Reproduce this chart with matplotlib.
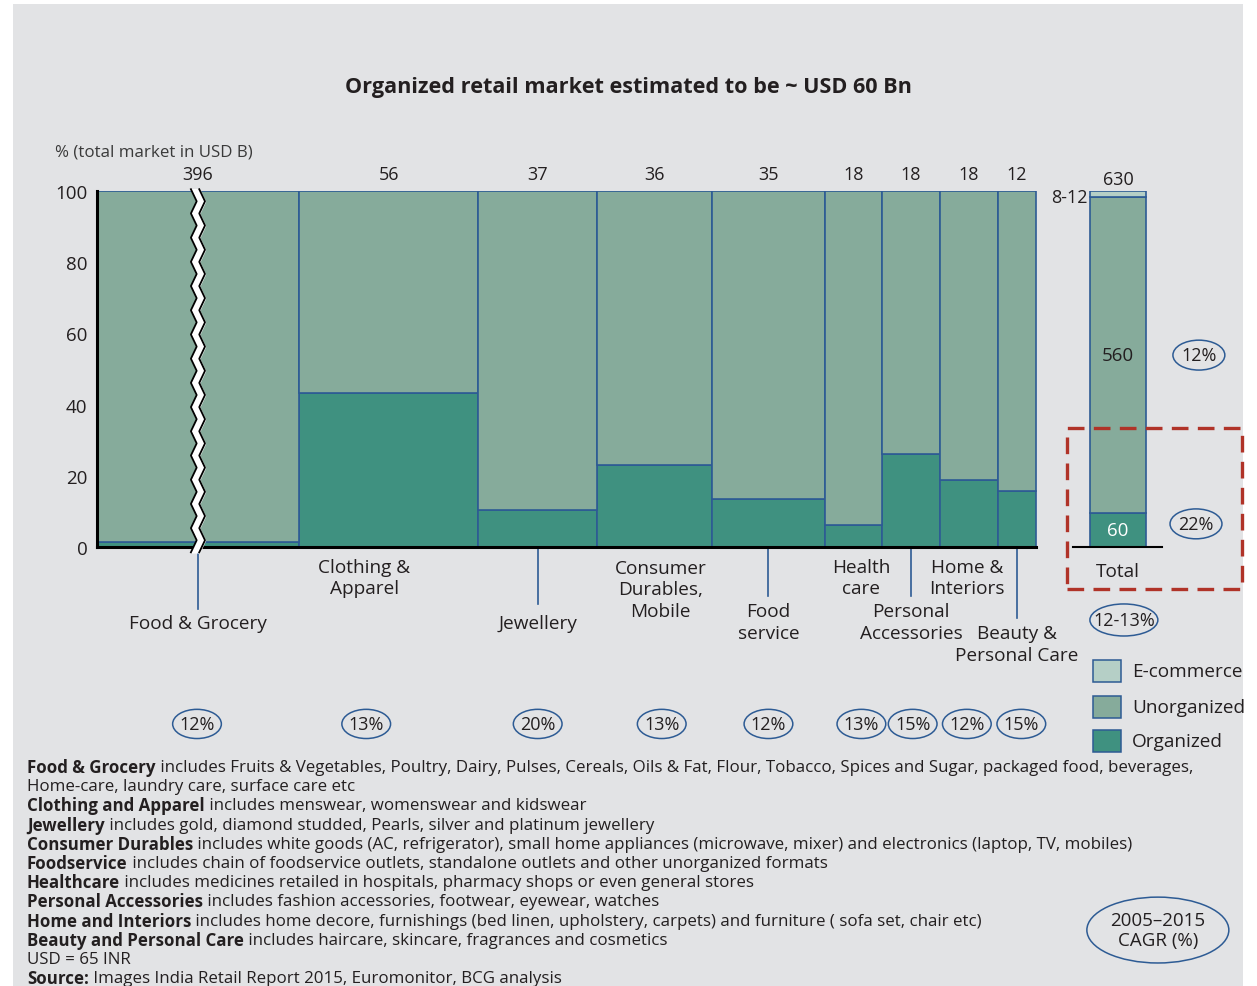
import numpy as np
import matplotlib.pyplot as plt
from matplotlib.patches import Rectangle, Ellipse

# data
categories = ["Food & Grocery", "Clothing &\nApparel", "Jewellery", "Consumer\nDurables,\nMobile",
              "Food\nservice", "Health\ncare", "Personal\nAccessories", "Home &\nInteriors",
              "Beauty &\nPersonal Care"]
market_size = [396, 56, 37, 36, 35, 18, 18, 18, 12]
organized_pct = [1.4, 43.3, 10.4, 23.0, 13.5, 6.2, 26.1, 18.9, 15.7]
cagr = ["12%", "13%", "20%", "13%", "12%", "13%", "15%", "12%", "15%"]

total_size = 630
total_organized = 60
total_unorganized = 560
total_ecommerce = 10
total_ecom_label = "8-12"
cagr_unorganized = "12%"
cagr_organized = "22%"
cagr_total = "12-13%"

# layout (food bar is drawn broken, so it gets a shorter width)
food_shown_width = 63
label_dx = [0, -7.6, 0, 1.9, 0, 2.5, 0, -0.6, 0]
label_y = [-21.3, -8.6, -21.3, -11.9, -21.1, -8.6, -21.1, -8.6, -27.2]
leader_to = [-17.4, None, -16, None, -13.8, None, -13.8, None, -20]
cagr_dx = [-0.3, -7.0, 0, 2.2, 0, 2.5, 0.5, -0.6, 1.4]

c_unorg = "#86ab9b"
c_org = "#3f9180"
c_ecom = "#b5cfc6"
c_edge = "#2d5b94"
c_text = "#231f20"
bg = "#e2e3e5"

plt.rcParams['font.family'] = ['Open Sans', 'Noto Sans', 'DejaVu Sans']

fig = plt.figure(figsize=(12.57, 9.87), dpi=100)
fig.patch.set_facecolor("white")
fig.patches.append(Rectangle((13 / 1257, 0), 1230 / 1257, 982 / 987, transform=fig.transFigure,
                             facecolor=bg, edgecolor="none", zorder=-10))

ax = fig.add_axes([97 / 1257, (987 - 548) / 987, 1148 / 1257, 356 / 987])
ax.set_facecolor("none")
ax.set_xlim(0, 1148 / 3.205)
ax.set_ylim(0, 100)

widths = [food_shown_width] + market_size[1:]
lefts = np.concatenate([[0], np.cumsum(widths)[:-1]])
centers = lefts + np.array(widths) / 2
unorg = [100 - o for o in organized_pct]

ax.bar(lefts, organized_pct, width=widths, align="edge", color=c_org, edgecolor=c_edge, lw=1.2)
ax.bar(lefts, unorg, bottom=organized_pct, width=widths, align="edge", color=c_unorg,
       edgecolor=c_edge, lw=1.2)
ax.plot([0, sum(widths)], [0, 0], color="black", lw=2.2, clip_on=False, zorder=5)

# break mark on food bar
yz = np.arange(-1.5, 102.5, 3.4)
xz = centers[0] + np.where(np.arange(len(yz)) % 2 == 0, -0.9, 0.9)
ax.fill_betweenx(yz, xz - 1.3, xz + 1.3, color="white", zorder=6, clip_on=False)
ax.plot(xz - 1.3, yz, color="black", lw=1.3, zorder=7, clip_on=False)
ax.plot(xz + 1.3, yz, color="black", lw=1.3, zorder=7, clip_on=False)

# size labels above bars
for i in range(len(categories)):
    ax.text(centers[i], 104.8, str(market_size[i]), ha="center", va="center", fontsize=13,
            color=c_text, clip_on=False)
    ax.text(centers[i] + label_dx[i], label_y[i], categories[i], ha="center", va="center",
            fontsize=13.7, color=c_text, linespacing=1.25, clip_on=False)
    if leader_to[i] is not None:
        ax.plot([centers[i], centers[i]], [0, leader_to[i]], color=c_edge, lw=1.2, clip_on=False)
    cx = centers[i] + cagr_dx[i]
    ax.add_patch(Ellipse((cx, -49.7), 15.2, 8.2, facecolor="none", edgecolor=c_edge, lw=1.1,
                         clip_on=False))
    ax.text(cx, -49.7, cagr[i], ha="center", va="center", fontsize=13, color=c_text,
            clip_on=False)

# total bar
tx = 309.8
tw = 17.5
t_org = total_organized / total_size * 100
t_unorg = total_unorganized / total_size * 100
t_ecom = total_ecommerce / total_size * 100
ax.bar(tx, t_org, width=tw, align="edge", color=c_org, edgecolor=c_edge, lw=1.2)
ax.bar(tx, t_unorg, bottom=t_org, width=tw, align="edge", color=c_unorg, edgecolor=c_edge, lw=1.2)
ax.bar(tx, t_ecom, bottom=t_org + t_unorg, width=tw, align="edge", color=c_ecom,
       edgecolor=c_edge, lw=1.2)
ax.plot([304.5, 332.2], [0, 0], color="black", lw=1.5, clip_on=False, zorder=5)
ax.text(tx + tw / 2, t_org / 2, str(total_organized), ha="center", va="center", fontsize=13.5,
        color="white")
ax.text(tx + tw / 2, t_org + t_unorg / 2, str(total_unorganized), ha="center", va="center",
        fontsize=13.5, color=c_text)
ax.text(tx + tw / 2, 103.4, str(total_size), ha="center", va="center", fontsize=13,
        color=c_text, clip_on=False)
ax.text(tx - 0.6, 98.3, total_ecom_label, ha="right", va="center", fontsize=13,
        color=c_text, clip_on=False)
ax.text(tx + tw / 2, -6.8, "Total", ha="center", va="center", fontsize=13.7, color=c_text,
        clip_on=False)

# growth ellipses on the right
for (ex, ey, ew, eh, s) in [(343.8, 53.9, 16.2, 8.4, cagr_unorganized),
                            (342.9, 6.5, 16.2, 8.4, cagr_organized),
                            (320.4, -20.5, 21.2, 9.0, cagr_total)]:
    ax.add_patch(Ellipse((ex, ey), ew, eh, facecolor="none", edgecolor=c_edge, lw=1.1,
                         clip_on=False))
    ax.text(ex, ey, s, ha="center", va="center", fontsize=13, color=c_text, clip_on=False)

ax.add_patch(Ellipse((331, -107.6), 44.3, 18.5, facecolor="none", edgecolor=c_edge, lw=1.1,
                     clip_on=False))
ax.text(331, -107.6, "2005–2015\nCAGR (%)", ha="center", va="center", fontsize=13.5,
        color=c_text, linespacing=1.15, clip_on=False)

# red dashed box
ax.add_patch(Rectangle((302.6, -11.8), 54.6, 45.2, facecolor="none", edgecolor="#b03328",
                       lw=2.4, ls=(0, (5, 2.8)), clip_on=False, zorder=8))

# legend
for yy, col, name in [(-34.8, c_ecom, "E-commerce"), (-44.9, c_unorg, "Unorganized"),
                      (-54.5, c_org, "Organized")]:
    ax.add_patch(Rectangle((310.8, yy - 3.1), 8.7, 6.2, facecolor=col, edgecolor=c_edge, lw=1.1,
                           clip_on=False))
    ax.text(322.9, yy, name, ha="left", va="center", fontsize=13.7, color=c_text, clip_on=False)

# axes styling
ax.set_yticks([0, 20, 40, 60, 80, 100])
ax.tick_params(axis="y", length=0, pad=7, labelsize=13.5, labelcolor=c_text)
ax.set_xticks([])
for s in ["top", "right", "bottom"]:
    ax.spines[s].set_visible(False)
ax.spines["left"].set_linewidth(2.2)
ax.spines["left"].set_color("black")
ax.text(-13.1, 111, "% (total market in USD B)", ha="left", va="center", fontsize=12.2,
        color="#3a3a3a", clip_on=False)

fig.text(0.5, 1 - 87 / 987, "Organized retail market estimated to be ~ USD 60 Bn",
         ha="center", va="center", fontsize=15.6, weight="bold", color=c_text)

# footnotes
notes = [
    ("Food & Grocery", " includes Fruits & Vegetables, Poultry, Dairy, Pulses, Cereals, Oils & Fat, Flour, Tobacco, Spices and Sugar, packaged food, beverages,"),
    ("", "Home-care, laundry care, surface care etc"),
    ("Clothing and Apparel", " includes menswear, womenswear and kidswear"),
    ("Jewellery", " includes gold, diamond studded, Pearls, silver and platinum jewellery"),
    ("Consumer Durables", " includes white goods (AC, refrigerator), small home appliances (microwave, mixer) and electronics (laptop, TV, mobiles)"),
    ("Foodservice", " includes chain of foodservice outlets, standalone outlets and other unorganized formats"),
    ("Healthcare", " includes medicines retailed in hospitals, pharmacy shops or even general stores"),
    ("Personal Accessories", " includes fashion accessories, footwear, eyewear, watches"),
    ("Home and Interiors", " includes home decore, furnishings (bed linen, upholstery, carpets) and furniture ( sofa set, chair etc)"),
    ("Beauty and Personal Care", " includes haircare, skincare, fragrances and cosmetics"),
    ("", "USD = 65 INR"),
    ("Source:", " Images India Retail Report 2015, Euromonitor, BCG analysis"),
]
renderer = fig.canvas.get_renderer()
x0 = 27 / 1257
for k, (b, r) in enumerate(notes):
    yy = 1 - (768 + k * 19.2) / 987
    xr = x0
    if b:
        t = fig.text(x0, yy, b, ha="left", va="center", fontsize=12.2, weight="bold",
                     color=c_text)
        xr = t.get_window_extent(renderer).x1 / fig.bbox.width
    fig.text(xr, yy, r, ha="left", va="center", fontsize=12.2, color=c_text)

fig.savefig("out.png", dpi=100)
